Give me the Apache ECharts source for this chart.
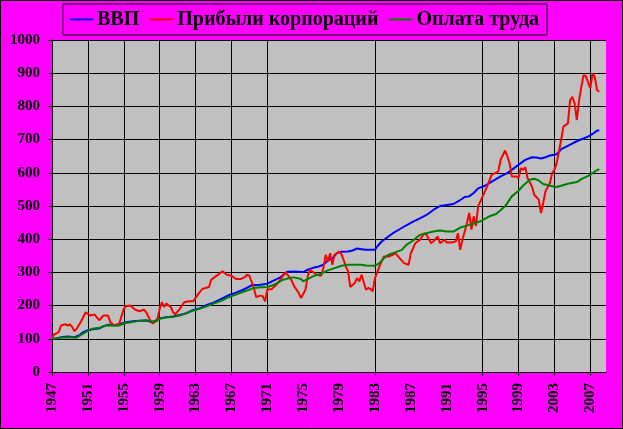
<!DOCTYPE html>
<html>
<head>
<meta charset="utf-8">
<script src="https://cdn.jsdelivr.net/npm/echarts@6/dist/echarts.min.js"></script>
<style>
html,body{margin:0;padding:0;background:#ff00ff;}
#c{width:623px;height:429px;}
</style>
</head>
<body>
<div id="c"></div>
<script>
// Tick labels every 4 years; vertical grid lines only at some of them
const tickYears = [1947,1951,1955,1959,1963,1967,1971,1975,1979,1983,1987,1991,1995,1999,2003,2007];
const gridYears = [1947,1951,1955,1959,1963,1967,1971,1983,1995,1999,2003,2007];
const firstYear = 1947, lastYear = 2008;

const seriesNames = ['ВВП', 'Прибыли корпораций', 'Оплата труда'];

// ВВП (GDP)
const gdpYears = [1947.0,1947.5,1948.0,1948.75,1949.5,1950.0,1950.5,1951.0,1951.5,1952.25,1952.75,1953.25,1953.75,1954.25,1954.75,1955.25,1956.0,1956.75,1957.5,1958.0,1958.5,1959.0,1959.75,1960.5,1961.25,1962.0,1962.75,1963.5,1964.25,1965.0,1965.75,1966.75,1967.5,1968.25,1969.25,1970.25,1971.0,1971.75,1972.5,1973.25,1974.0,1975.0,1975.5,1976.25,1976.75,1977.25,1977.75,1978.25,1978.75,1979.25,1980.0,1980.5,1981.0,1981.5,1982.0,1983.0,1983.25,1983.75,1984.5,1985.0,1985.75,1986.5,1987.25,1988.0,1988.75,1989.5,1990.25,1991.0,1991.75,1992.5,1993.0,1993.5,1994.0,1994.5,1995.25,1995.75,1996.25,1997.0,1997.75,1998.5,1999.25,1999.75,2000.5,2001.0,2001.5,2002.0,2002.5,2003.25,2003.75,2004.5,2005.25,2006.0,2006.75,2007.25,2007.75,2008.0];
const gdpValues = [100,101,105,107,105,110,120,126,129,131,138,142,141,141,146,150,153,154,155,151,153,161,165,167,172,177,187,192,202,209,219,232,239,247,261,263,266,276,286,302,303,301,308,315,318,323,336,342,358,362,363,366,372,370,368,368,378,393,408,418,430,442,453,463,473,488,500,503,506,518,527,529,539,553,561,569,577,589,599,614,629,639,647,646,643,647,652,656,671,681,692,701,709,717,727,728];

// Прибыли корпораций (corporate profits)
const profitYears = [1947.0,1947.25,1947.75,1948.0,1948.5,1948.75,1949.0,1949.25,1949.5,1949.75,1950.25,1950.75,1951.25,1951.75,1952.25,1952.75,1953.25,1953.5,1954.0,1954.5,1955.0,1955.25,1955.75,1956.25,1956.75,1957.25,1957.5,1958.0,1958.25,1958.75,1959.0,1959.25,1959.5,1959.75,1960.25,1960.5,1960.75,1961.25,1961.75,1962.25,1962.75,1963.25,1963.75,1964.5,1964.75,1965.25,1965.5,1966.0,1966.5,1967.0,1967.5,1968.0,1968.5,1968.75,1969.0,1969.5,1969.75,1970.25,1970.5,1970.75,1971.0,1971.5,1972.0,1972.5,1973.0,1973.5,1973.75,1974.0,1974.5,1974.75,1975.25,1975.5,1975.75,1976.25,1976.5,1977.0,1977.25,1977.5,1977.75,1978.0,1978.25,1978.5,1979.0,1979.25,1979.5,1979.75,1980.0,1980.25,1980.75,1981.0,1981.25,1981.5,1982.0,1982.25,1982.5,1982.75,1983.0,1983.5,1984.0,1984.5,1985.0,1985.25,1985.75,1986.25,1986.75,1987.0,1987.5,1988.0,1988.5,1988.75,1989.25,1989.5,1990.0,1990.25,1990.75,1991.0,1991.5,1992.0,1992.25,1992.5,1992.75,1993.0,1993.25,1993.5,1993.75,1994.0,1994.25,1994.5,1995.0,1995.5,1996.0,1996.75,1997.0,1997.5,1997.75,1998.0,1998.25,1998.75,1999.0,1999.25,1999.5,1999.75,2000.0,2000.5,2000.75,2001.25,2001.5,2001.75,2002.0,2002.5,2002.75,2003.0,2003.25,2003.75,2004.0,2004.5,2004.75,2005.0,2005.25,2005.5,2005.75,2006.0,2006.25,2006.5,2007.0,2007.25,2007.5,2007.75,2008.0];
const profitValues = [103,113,120,140,144,140,143,136,123,130,153,180,170,173,156,170,170,150,140,146,190,198,200,188,183,188,180,153,146,160,190,210,196,206,195,180,174,190,210,213,213,233,250,256,278,288,293,303,293,290,280,280,286,293,290,253,226,230,228,213,248,250,263,280,300,285,273,258,238,223,248,288,308,298,293,290,313,353,333,358,323,353,363,355,338,318,303,256,268,283,273,293,248,253,250,243,283,318,348,348,353,358,343,328,323,358,388,398,418,413,388,393,408,388,398,390,390,393,418,368,398,423,449,479,429,469,440,499,529,559,594,604,639,667,650,629,589,589,584,614,609,617,584,559,534,519,479,509,544,569,599,609,629,699,739,749,819,829,809,759,819,859,894,891,854,899,889,849,844];

// Оплата труда (compensation)
const wageYears = [1947.0,1948.0,1949.0,1949.75,1950.0,1950.75,1951.5,1952.25,1953.0,1954.5,1955.0,1955.75,1956.75,1957.5,1958.5,1959.0,1959.75,1960.5,1961.25,1962.0,1962.75,1963.5,1964.25,1965.0,1966.0,1966.75,1967.5,1968.25,1969.5,1970.25,1971.0,1971.75,1972.25,1972.75,1973.5,1974.0,1974.75,1975.0,1975.5,1976.25,1977.0,1977.75,1978.5,1979.25,1980.0,1981.5,1982.0,1983.0,1983.5,1984.0,1984.5,1985.0,1986.0,1986.5,1987.25,1988.0,1988.75,1989.5,1990.25,1991.0,1991.75,1992.5,1993.25,1994.0,1994.75,1995.75,1996.5,1997.5,1998.25,1999.0,1999.5,2000.25,2000.75,2001.25,2001.75,2002.5,2003.25,2003.75,2004.5,2005.5,2006.0,2007.0,2007.5,2008.0];
const wageValues = [100,103,105,103,108,120,130,133,140,140,146,150,154,156,151,160,165,166,170,178,185,191,198,206,216,226,233,241,253,255,256,263,270,278,283,285,280,273,280,290,296,306,313,320,323,323,321,320,328,343,353,358,368,383,396,413,418,423,426,423,423,435,441,447,454,469,476,499,529,546,561,579,582,577,566,561,557,561,567,572,581,594,604,611];

const categories = [];
for (let y = firstYear; y <= lastYear; y++) {
  for (let q = 1; q <= 4; q++) categories.push(y + ' Q' + q);
}
const catYear = (i) => firstYear + Math.floor(i / 4);
const toPairs = (years, values) => years.map((y, i) => [categories[Math.round((y - firstYear) * 4)], values[i]]);

const isTickLabel = (i) => i % 4 === 0 && tickYears.indexOf(catYear(i)) >= 0;
const isGrid = (i) => i % 4 === 0 && gridYears.indexOf(catYear(i)) >= 0;

const font = 'Liberation Serif';
const chart = echarts.init(document.getElementById('c'), null, {renderer: 'canvas'});
chart.setOption({
  backgroundColor: '#ff00ff',
  animation: false,
  graphic: [{
    type: 'rect', silent: true, z: 100,
    shape: {x: 0.5, y: 0.5, width: 622, height: 428},
    style: {fill: 'none', stroke: '#000', lineWidth: 1}
  }],
  legend: {
    left: 63, top: 4,
    padding: [5, 8, 5, 7],
    borderColor: '#000', borderWidth: 1,
    itemGap: 11, itemWidth: 23, itemHeight: 2,
    icon: 'rect',
    textStyle: {fontFamily: font, fontSize: 20, fontWeight: 'bold', color: '#000', lineHeight: 21, padding: [0, 0, 0, -1]},
    data: seriesNames
  },
  grid: {left: 52, right: 17, top: 40, bottom: 57, show: true, backgroundColor: '#c0c0c0', borderWidth: 0},
  xAxis: {
    type: 'category',
    data: categories,
    boundaryGap: false,
    axisLine: {lineStyle: {color: '#000', width: 1}},
    axisTick: {show: true, length: 4, interval: (i) => isGrid(i), lineStyle: {color: '#000'}},
    splitLine: {show: true, interval: (i) => isGrid(i), lineStyle: {color: '#000', width: 1}},
    axisLabel: {
      interval: (i) => isTickLabel(i),
      rotate: 90, margin: 11,
      formatter: (v) => v.slice(0, 4),
      fontFamily: font, fontSize: 15, fontWeight: 'bold', color: '#000'
    }
  },
  yAxis: {
    type: 'value', min: 0, max: 1000, interval: 100,
    axisLine: {show: true, lineStyle: {color: '#000', width: 1}},
    axisTick: {show: true, length: 4, lineStyle: {color: '#000'}},
    splitLine: {show: true, lineStyle: {color: '#000', width: 1}},
    axisLabel: {margin: 12, formatter: (v) => String(v), fontFamily: font, fontSize: 15, fontWeight: 'bold', color: '#000'}
  },
  series: [
    {name: seriesNames[0], type: 'line', data: toPairs(gdpYears, gdpValues), showSymbol: false, symbol: 'none', color: '#0000ff', lineStyle: {width: 2, color: '#0000ff'}},
    {name: seriesNames[1], type: 'line', data: toPairs(profitYears, profitValues), showSymbol: false, symbol: 'none', color: '#ff0000', lineStyle: {width: 2, color: '#ff0000'}},
    {name: seriesNames[2], type: 'line', data: toPairs(wageYears, wageValues), showSymbol: false, symbol: 'none', color: '#008000', lineStyle: {width: 2, color: '#008000'}}
  ]
});
</script>
</body>
</html>
